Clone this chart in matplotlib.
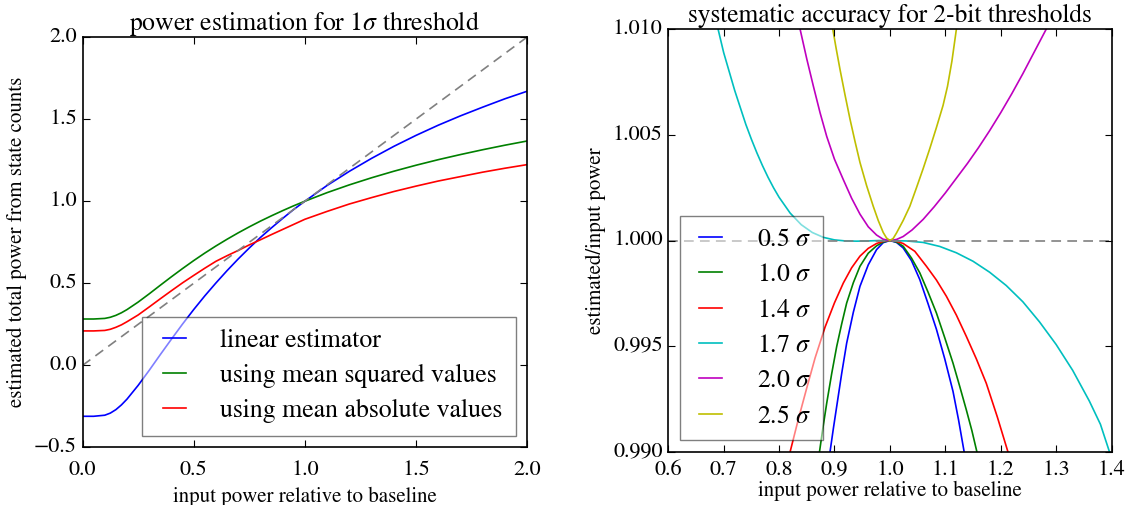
import matplotlib
matplotlib.use("Agg")
import matplotlib.pyplot as plt

plt.style.use("classic")
plt.rcParams["font.family"] = ["STIXGeneral", "DejaVu Serif"]
plt.rcParams["mathtext.fontset"] = "stix"

# left panel: power estimates for a 1 sigma threshold
p_in = [0.0, 0.05, 0.1, 0.125, 0.15, 0.175, 0.2, 0.25, 0.3, 0.35, 0.4, 0.45,
        0.5, 0.55, 0.6, 0.65, 0.7, 0.75, 0.8, 0.85, 0.9, 0.95, 1.0,
        1.1, 1.2, 1.3, 1.4, 1.5, 1.6, 1.7, 1.8, 1.9, 2.0]
est_linear = [-0.31, -0.31, -0.3035, -0.2906, -0.2695, -0.2406, -0.2055, -0.122,
              -0.030, 0.066, 0.160, 0.252, 0.340, 0.4235, 0.502, 0.577, 0.648,
              0.715, 0.779, 0.838, 0.895, 0.950, 1.000,
              1.096, 1.182, 1.261, 1.334, 1.401, 1.463, 1.520, 1.573, 1.624, 1.670]
est_msq = [0.2826, 0.2826, 0.2862, 0.2932, 0.3048, 0.3206, 0.3399, 0.3855, 0.436,
           0.4884, 0.540, 0.590, 0.6383, 0.6842, 0.7274, 0.7683, 0.8072, 0.8439,
           0.8787, 0.9113, 0.9425, 0.9723, 1.0,
           1.0523, 1.0996, 1.1428, 1.1826, 1.2192, 1.2531, 1.2843, 1.3137, 1.3413, 1.3669]
est_mabs = [0.21, 0.21, 0.213, 0.22, 0.232, 0.247, 0.266, 0.307, 0.356, 0.406,
            0.455, 0.503, 0.548, 0.592, 0.634, 0.668, 0.70, 0.734, 0.765, 0.797,
            0.828, 0.859, 0.89,
            0.938, 0.983, 1.022, 1.059, 1.092, 1.123, 1.150, 1.177, 1.201, 1.223]
ident = [0.0, 2.0]
left_labels = ["linear estimator", "using mean squared values",
               "using mean absolute values"]

# right panel: estimated/input power for 2-bit thresholds
x_05 = [0.886, 0.892, 0.898, 0.904, 0.913, 0.922, 0.934, 0.946, 0.961, 0.976, 0.988,
        1.000, 1.012, 1.024, 1.039, 1.054, 1.069, 1.084, 1.099, 1.114, 1.124, 1.134, 1.140]
r_05 = [0.9889, 0.9900, 0.9911, 0.99214, 0.9937, 0.99514, 0.9966, 0.99783, 0.99885,
        0.99957, 0.9999, 1.0, 0.99991, 0.99965, 0.99905, 0.99815, 0.9970, 0.9958,
        0.9944, 0.99285, 0.9915, 0.9900, 0.9891]
x_10 = [0.866, 0.873, 0.879, 0.886, 0.895, 0.904, 0.913, 0.922, 0.934, 0.946, 0.961,
        0.976, 0.988, 1.000, 1.012, 1.024, 1.039, 1.054, 1.069, 1.084, 1.099, 1.114,
        1.126, 1.138, 1.148, 1.157, 1.164]
r_10 = [0.9888, 0.9900, 0.9911, 0.9923, 0.9937, 0.99498, 0.99605, 0.99704, 0.9980,
        0.99878, 0.9994, 0.99975, 0.99993, 1.0, 0.99993, 0.99973, 0.99917, 0.99847,
        0.99755, 0.99657, 0.9954, 0.99419, 0.9931, 0.99198, 0.9910, 0.9900, 0.9892]
x_14 = [0.812, 0.820, 0.835, 0.850, 0.865, 0.883, 0.900, 0.916, 0.931, 0.946, 0.961,
        0.976, 0.988, 1.000, 1.012, 1.024, 1.045, 1.066, 1.084, 1.102, 1.120, 1.138,
        1.156, 1.174, 1.194, 1.213, 1.220]
r_14 = [0.98904, 0.9900, 0.99156, 0.99302, 0.99444, 0.9959, 0.99705, 0.99799, 0.99871,
        0.99926, 0.99963, 0.99986, 0.99996, 1.0, 0.99996, 0.99986, 0.99949, 0.99878,
        0.99813, 0.99736, 0.99647, 0.99546, 0.9944, 0.99324, 0.99164, 0.9900, 0.98935]
x_17 = [0.686, 0.690, 0.700, 0.710, 0.720, 0.730, 0.740, 0.750, 0.760, 0.770, 0.780,
        0.790, 0.800, 0.820, 0.840, 0.860, 0.880, 0.900, 0.920, 0.940, 0.960, 0.980,
        1.000, 1.030, 1.060, 1.090, 1.120, 1.150, 1.180, 1.210, 1.240, 1.270, 1.300,
        1.330, 1.360, 1.380, 1.400]
r_17 = [1.0105, 1.0100, 1.0089, 1.0080, 1.0071, 1.0063, 1.0055, 1.0048, 1.00415,
        1.00355, 1.0030, 1.0025, 1.00205, 1.0013, 1.00075, 1.00038, 1.00015, 1.00003,
        0.99998, 0.99997, 0.99998, 1.0, 1.0, 0.99998, 0.99991, 0.99972, 0.99942,
        0.99902, 0.9985, 0.99787, 0.9971, 0.99615, 0.99508, 0.99385, 0.9924, 0.9913,
        0.9897]
x_20 = [0.832, 0.838, 0.850, 0.862, 0.874, 0.886, 0.900, 0.916, 0.931, 0.946, 0.961,
        0.976, 0.988, 1.000, 1.012, 1.024, 1.040, 1.060, 1.080, 1.100, 1.120, 1.140,
        1.160, 1.180, 1.200, 1.220, 1.240, 1.260, 1.280, 1.290]
r_20 = [1.0108, 1.0100, 1.0086, 1.0073, 1.00605, 1.00493, 1.00385, 1.00288, 1.0020,
        1.00125, 1.00065, 1.00026, 1.00006, 1.0, 1.00005, 1.00019, 1.0005, 1.0010,
        1.0016, 1.00225, 1.00295, 1.00365, 1.0044, 1.0052, 1.00605, 1.00695, 1.0079,
        1.0089, 1.0099, 1.0104]
x_25 = [0.893, 0.897, 0.903, 0.910, 0.919, 0.928, 0.937, 0.946, 0.958, 0.970, 0.979,
        0.988, 0.994, 1.000, 1.006, 1.012, 1.024, 1.036, 1.048, 1.060, 1.072, 1.084,
        1.096, 1.104, 1.112, 1.116, 1.120, 1.124]
r_25 = [1.0106, 1.0100, 1.0091, 1.0081, 1.0069, 1.00575, 1.0047, 1.0037, 1.0026,
        1.00162, 1.00095, 1.00038, 1.00012, 1.0, 1.0001, 1.00036, 1.00095, 1.00162,
        1.0025, 1.0034, 1.00435, 1.00535, 1.0064, 1.0073, 1.0085, 1.00925, 1.0100,
        1.0108]
thresholds = ["0.5", "1.0", "1.4", "1.7", "2.0", "2.5"]
right_x = [x_05, x_10, x_14, x_17, x_20, x_25]
right_r = [r_05, r_10, r_14, r_17, r_20, r_25]
right_colors = ["b", "g", "r", "c", "m", "y"]
unity_x = [0.6, 1.4]
unity_y = [1.0, 1.0]

lw = 1.2
fig = plt.figure(figsize=(11.29, 5.05), dpi=100, facecolor="white")

ax1 = fig.add_axes([0.0731, 0.1139, 0.3938, 0.8127])
ax1.plot(p_in, est_linear, color="b", lw=lw, label=left_labels[0])
ax1.plot(p_in, est_msq, color="g", lw=lw, label=left_labels[1])
ax1.plot(p_in, est_mabs, color="r", lw=lw, label=left_labels[2])
ax1.plot(ident, ident, "--", color="0.5", lw=lw, dashes=(7, 4.5))
ax1.set_xlim(0, 2)
ax1.set_ylim(-0.5, 2)
ax1.set_xticks([0.0, 0.5, 1.0, 1.5, 2.0])
ax1.set_yticks([-0.5, 0.0, 0.5, 1.0, 1.5, 2.0])
ax1.set_title("power estimation for 1$\\sigma$ threshold", fontsize=18.5)
ax1.set_xlabel("input power relative to baseline", fontsize=15)
ax1.set_ylabel("estimated total power from state counts", fontsize=15)
ax1.legend(loc="lower right", fontsize=18.5, framealpha=0.5, handlelength=1.5,
           handletextpad=1.05, borderpad=0.5, borderaxespad=0.45,
           labelspacing=0.42)

ax2 = fig.add_axes([0.5919, 0.1055, 0.3926, 0.8364])
for xs, rs, c, t in zip(right_x, right_r, right_colors, thresholds):
    ax2.plot(xs, rs, color=c, lw=lw, label=t + " $\\sigma$")
ax2.plot(unity_x, unity_y, "--", color="0.5", lw=lw, dashes=(7, 4.5))
ax2.set_xlim(0.6, 1.4)
ax2.set_ylim(0.99, 1.01)
ax2.set_xticks([0.6, 0.7, 0.8, 0.9, 1.0, 1.1, 1.2, 1.3, 1.4])
ax2.set_yticks([0.990, 0.995, 1.000, 1.005, 1.010])
ax2.ticklabel_format(axis="y", useOffset=False)
ax2.set_title("systematic accuracy for 2-bit thresholds", fontsize=18.3)
ax2.set_xlabel("input power relative to baseline", fontsize=15, labelpad=1)
ax2.set_ylabel("estimated/input power", fontsize=15)
ax2.legend(loc="lower left", fontsize=18.5, framealpha=0.5, handlelength=1.5,
           handletextpad=1.05, borderpad=0.45, borderaxespad=0.45,
           labelspacing=0.44)

for ax in (ax1, ax2):
    ax.tick_params(labelsize=16, length=5, width=0.8, direction="in")
    for sp in ax.spines.values():
        sp.set_linewidth(1.2)
ax1.tick_params(axis="x", pad=9)
ax2.tick_params(axis="x", pad=6)

fig.savefig("out.png", dpi=100, facecolor="white")
